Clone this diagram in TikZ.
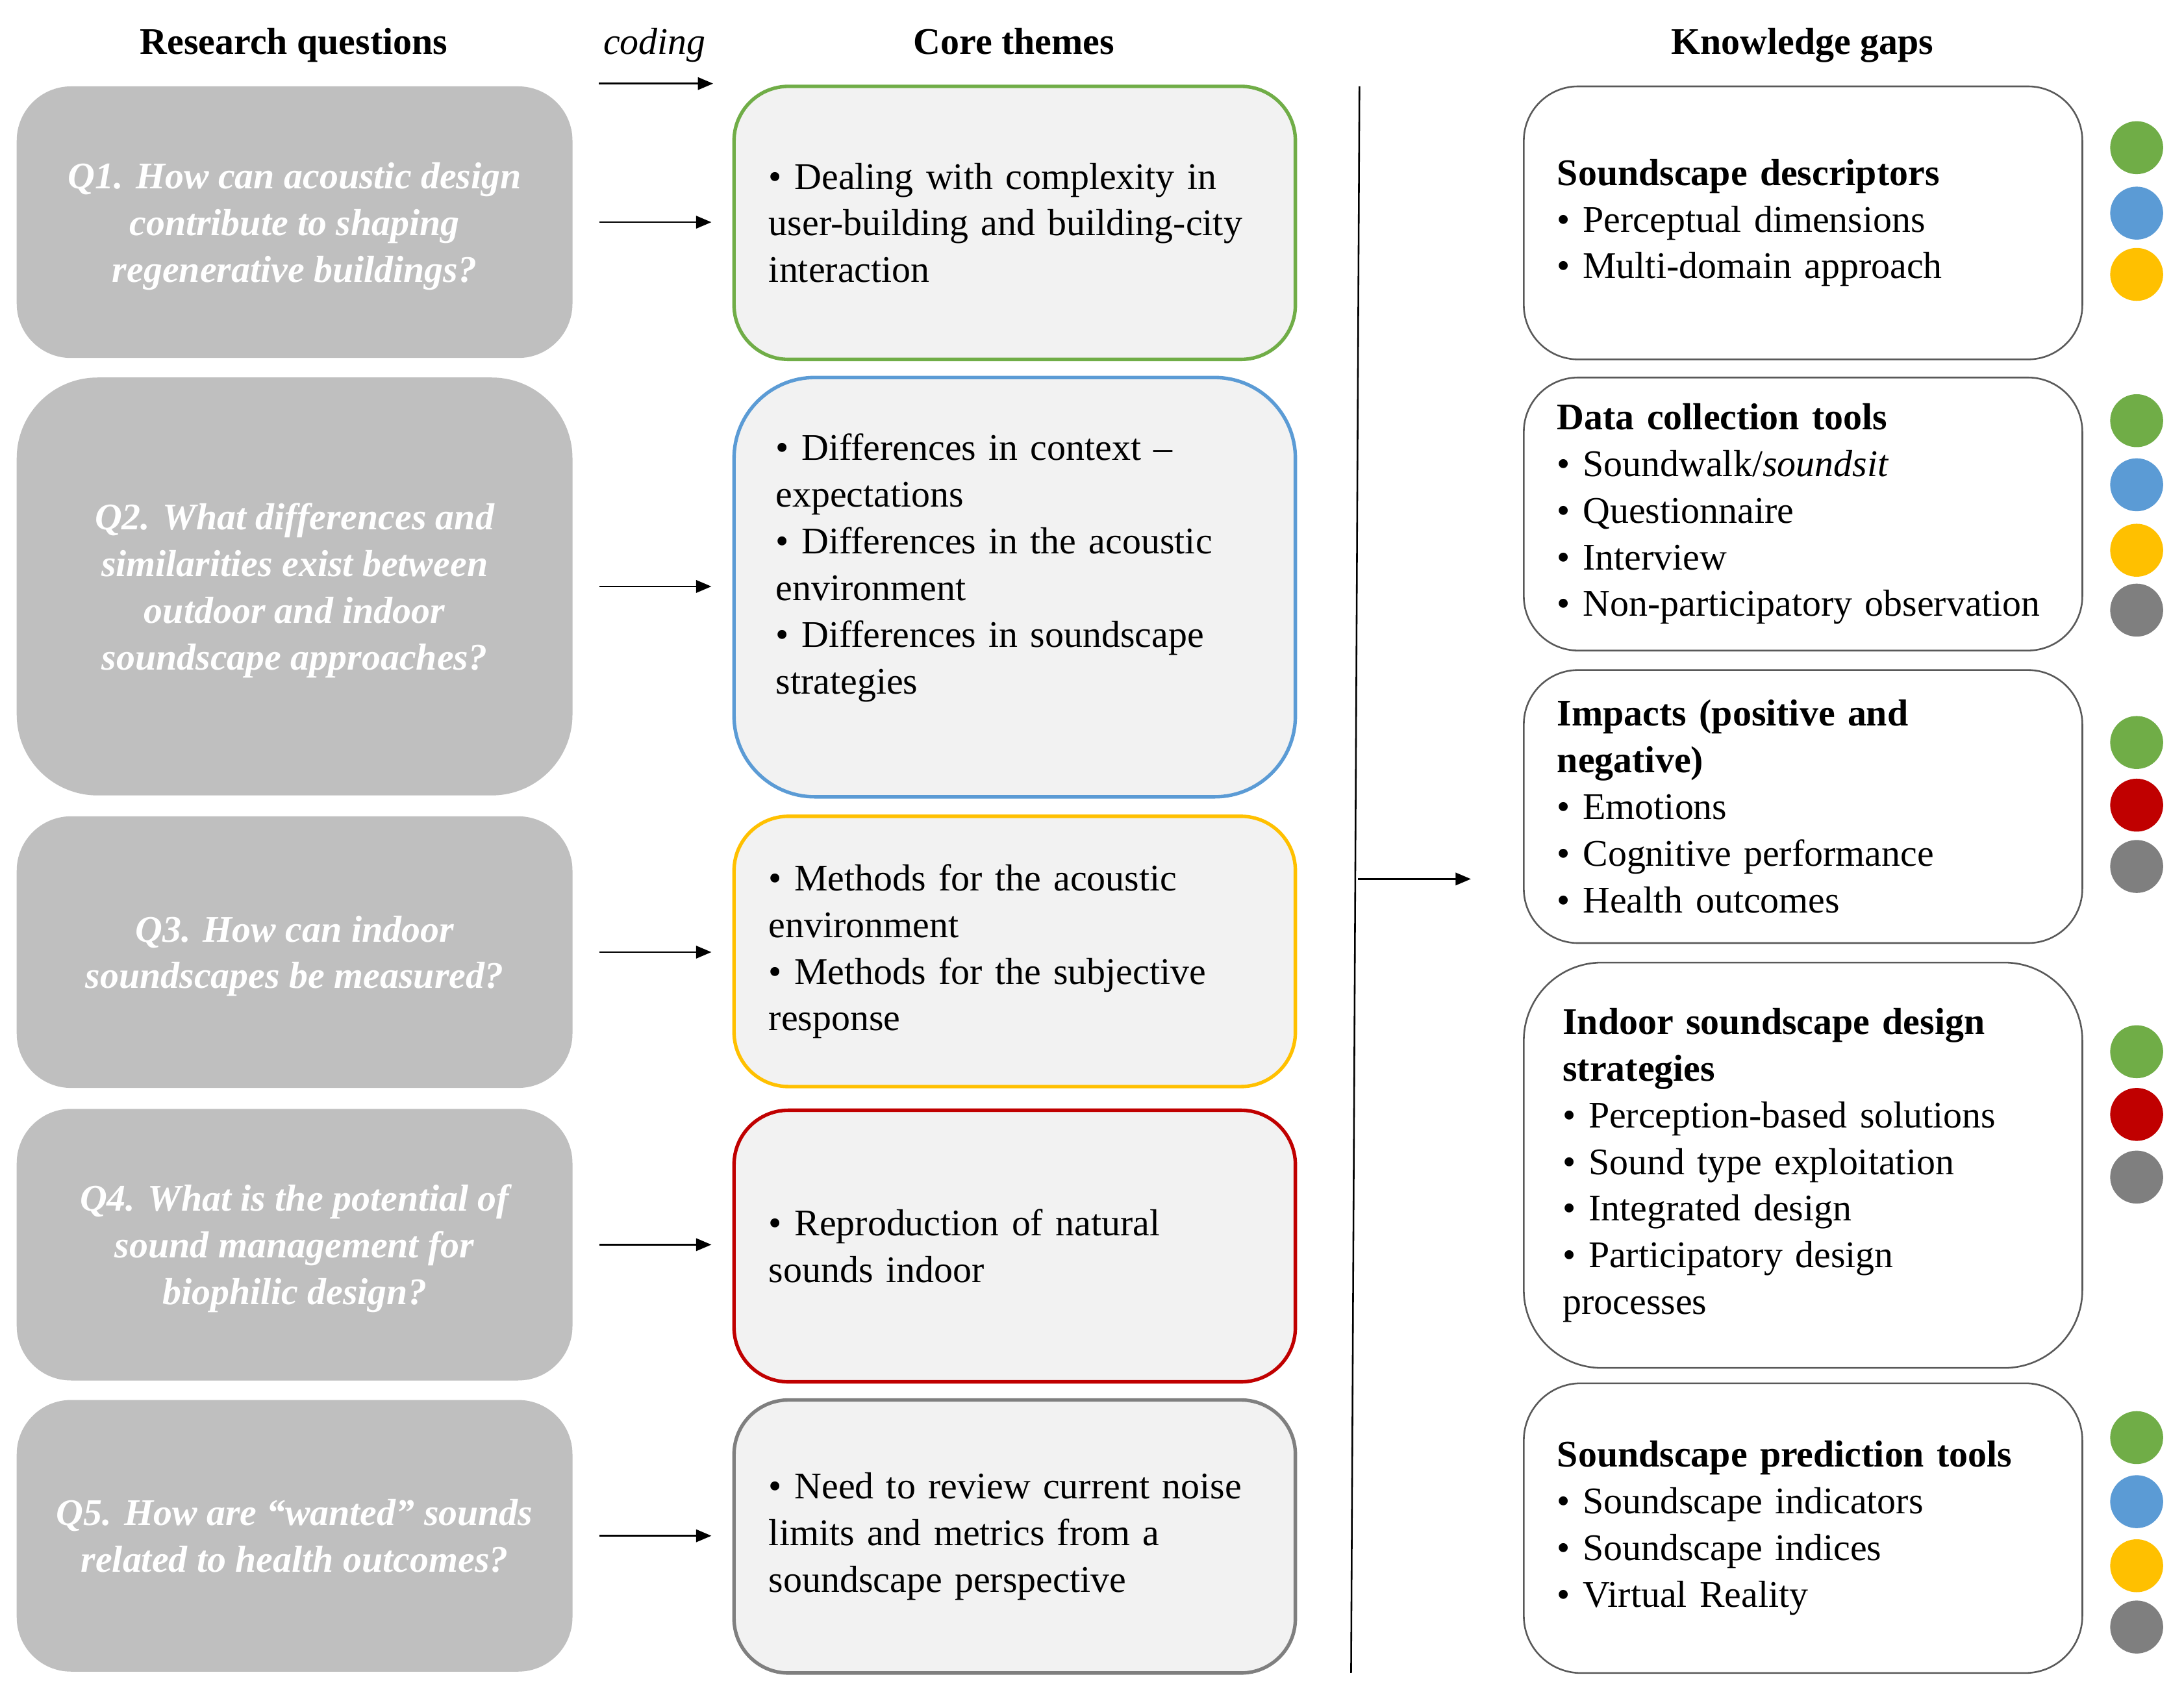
\documentclass[tikz,border=0pt]{standalone}
\usepackage{fontspec}
\setmainfont{Liberation Serif}
\usetikzlibrary{arrows.meta}
\definecolor{cgreen}{HTML}{70AD47}
\definecolor{cblue}{HTML}{5B9BD5}
\definecolor{cyellow}{HTML}{FFC000}
\definecolor{cred}{HTML}{C00000}
\definecolor{cgray}{HTML}{7F7F7F}
\definecolor{qgray}{HTML}{BFBFBF}
\definecolor{corefill}{HTML}{F2F2F2}
\definecolor{gapline}{HTML}{595959}
\begin{document}
\begin{tikzpicture}[x=1pt,y=-1pt,
    every node/.style={font=\fontsize{27}{33.5}\selectfont},
    title/.style={font=\fontsize{27}{33.5}\selectfont\bfseries, anchor=base},
    qbox/.style={fill=qgray, text=white, align=center, minimum width=399pt,
      text depth=0pt, font=\fontsize{27}{33.5}\selectfont\bfseries\itshape},
    corebox/.style={fill=corefill, line width=2.5pt, text width=353pt,
      inner xsep=25pt, align=left},
    gapbox/.style={draw=gapline, line width=1.2pt, fill=white, text width=353pt,
      inner xsep=24pt, align=left},
    arr/.style={line width=1.2pt, -{Triangle[length=11pt,width=9pt]}}]
    \useasboundingbox (0,0) rectangle (1568,1221.1);
    % Column titles
    \node[title] (tq) at (211,39) {Research questions};
    \node[font=\fontsize{27}{33.5}\selectfont\itshape, anchor=base] (coding) at (470,39) {coding};
    \node[title] (tc) at (728,39) {Core themes};
    \node[title] (tk) at (1294,39) {Knowledge gaps};
    \coordinate (codeL) at (430,60);
    \coordinate (codeR) at (512,60);
    \draw[arr] (codeL) -- (codeR);
    % Research questions
    \node[qbox, minimum height=195pt, rounded corners=39pt] (q1) at (211.5,159.5)
        {Q1. How can acoustic design\\contribute to shaping\\regenerative buildings?};
    \node[qbox, minimum height=300pt, rounded corners=58pt] (q2) at (211.5,421)
        {Q2. What differences and\\similarities exist between\\outdoor and indoor\\soundscape approaches?};
    \node[qbox, minimum height=195pt, rounded corners=39pt] (q3) at (211.5,683.5)
        {Q3. How can indoor\\soundscapes be measured?};
    \node[qbox, minimum height=195pt, rounded corners=39pt] (q4) at (211.5,893.5)
        {Q4. What is the potential of\\sound management for\\biophilic design?};
    \node[qbox, minimum height=195pt, rounded corners=39pt] (q5) at (211.5,1102.5)
        {Q5. How are “wanted” sounds\\related to health outcomes?};
    % Core themes
    \node[corebox, draw=cgreen, minimum height=196pt, rounded corners=39pt] (c1) at (728.5,160)
        {• Dealing with complexity in\\user-building and building-city\\interaction};
    \node[corebox, draw=cblue, minimum height=301pt, rounded corners=58pt,
        inner xsep=30pt, text width=343pt] (c2) at (728.5,421.5)
        {• Differences in context –\\expectations\\• Differences in the acoustic\\environment\\• Differences in soundscape\\strategies\\\mbox{}};
    \node[corebox, draw=cyellow, minimum height=194pt, rounded corners=39pt] (c3) at (728.5,683)
        {• Methods for the acoustic\\environment\\• Methods for the subjective\\response};
    \node[corebox, draw=cred, minimum height=195pt, rounded corners=39pt] (c4) at (728.5,894.5)
        {• Reproduction of natural\\sounds indoor};
    \node[corebox, draw=cgray, minimum height=196pt, rounded corners=39pt] (c5) at (728.5,1103)
        {• Need to review current noise\\limits and metrics from a\\soundscape perspective};
    % coding arrows
    \draw[arr, shorten <=19pt, shorten >=15pt] (q1.east) -- (q1.east -| c1.west);
    \draw[arr, shorten <=19pt, shorten >=15pt] (q2.east) -- (q2.east -| c2.west);
    \draw[arr, shorten <=19pt, shorten >=15pt] (q3.east) -- (q3.east -| c3.west);
    \draw[arr, shorten <=19pt, shorten >=15pt] (q4.east) -- (q4.east -| c4.west);
    \draw[arr, shorten <=19pt, shorten >=15pt] (q5.east) -- (q5.east -| c5.west);
    % Divider and arrow to the gaps
    \coordinate (splitT) at (976,62);
    \coordinate (splitB) at (970,1201);
    \draw[line width=1.2pt] (splitT) -- (splitB);
    \coordinate (splitM) at (975,631);
    \coordinate (gapin) at (1056,631);
    \draw[arr] (splitM) -- (gapin);
    % Knowledge gaps
    \node[gapbox, minimum height=196pt, rounded corners=39pt] (k1) at (1294.5,160)
        {\textbf{Soundscape descriptors}\\• Perceptual dimensions\\• Multi-domain approach};
    \node[gapbox, minimum height=196pt, rounded corners=39pt] (k2) at (1294.5,369)
        {\textbf{Data collection tools}\\• Soundwalk/\textit{soundsit}\\• Questionnaire\\• Interview\\• Non-participatory observation};
    \node[gapbox, minimum height=196pt, rounded corners=39pt] (k3) at (1294.5,579)
        {\textbf{Impacts (positive and}\\\textbf{negative)}\\• Emotions\\• Cognitive performance\\• Health outcomes};
    \node[gapbox, minimum height=291pt, rounded corners=56pt, inner xsep=28pt,
        text width=345pt] (k4) at (1294.5,836.5)
        {\textbf{Indoor soundscape design}\\\textbf{strategies}\\• Perception-based solutions\\• Sound type exploitation\\• Integrated design\\• Participatory design\\processes};
    \node[gapbox, minimum height=208pt, rounded corners=41pt] (k5) at (1294.5,1097)
        {\textbf{Soundscape prediction tools}\\• Soundscape indicators\\• Soundscape indices\\• Virtual Reality};
    % Theme dots
    \fill[cgreen] (1534,106) circle (19pt);
    \fill[cblue] (1534,153) circle (19pt);
    \fill[cyellow] (1534,197) circle (19pt);
    \fill[cgreen] (1534,302) circle (19pt);
    \fill[cblue] (1534,348) circle (19pt);
    \fill[cyellow] (1534,395) circle (19pt);
    \fill[cgray] (1534,438) circle (19pt);
    \fill[cgreen] (1534,533) circle (19pt);
    \fill[cred] (1534,578) circle (19pt);
    \fill[cgray] (1534,622) circle (19pt);
    \fill[cgreen] (1534,755) circle (19pt);
    \fill[cred] (1534,800) circle (19pt);
    \fill[cgray] (1534,845) circle (19pt);
    \fill[cgreen] (1534,1032) circle (19pt);
    \fill[cblue] (1534,1078) circle (19pt);
    \fill[cyellow] (1534,1124) circle (19pt);
    \fill[cgray] (1534,1168) circle (19pt);
\end{tikzpicture}
\end{document}
